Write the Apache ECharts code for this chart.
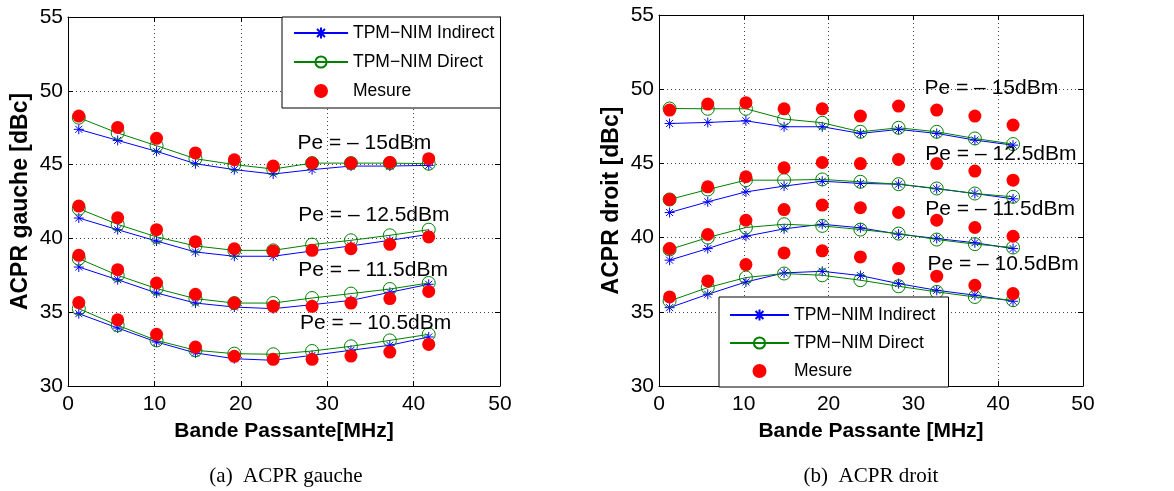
<!DOCTYPE html>
<html><head><meta charset="utf-8">
<script src="https://cdn.jsdelivr.net/npm/echarts@6/dist/echarts.min.js"></script>
<style>html,body{margin:0;padding:0;background:#fff}#c{width:1174px;height:491px}</style>
</head><body><div id="c"></div><script>
// ---------- data ----------
const bandwidthMHz = [1.25, 5.75, 10.25, 14.75, 19.25, 23.75, 28.25, 32.75, 37.25, 41.75];
const powerLabels = ['Pe = – 15dBm', 'Pe = – 12.5dBm', 'Pe = – 11.5dBm', 'Pe = – 10.5dBm'];

// ACPR gauche (left)
const gaucheIndirect15  = [47.39, 46.64, 45.90, 45.06, 44.66, 44.36, 44.66, 44.90, 44.90, 44.95];
const gaucheDirect15    = [48.18, 47.14, 46.28, 45.40, 45.00, 44.70, 45.10, 45.10, 45.10, 45.06];
const gaucheMesure15    = [48.29, 47.52, 46.78, 45.79, 45.33, 44.90, 45.10, 45.10, 45.15, 45.40];
const gaucheIndirect125 = [41.38, 40.59, 39.82, 39.08, 38.79, 38.79, 39.15, 39.49, 39.87, 40.28];
const gaucheDirect125   = [42.01, 40.95, 40.10, 39.49, 39.19, 39.19, 39.58, 39.87, 40.21, 40.59];
const gaucheMesure125   = [42.19, 41.40, 40.59, 39.78, 39.30, 39.15, 39.19, 39.30, 39.60, 40.10];
const gaucheIndirect115 = [38.06, 37.20, 36.30, 35.62, 35.35, 35.24, 35.51, 35.80, 36.35, 36.89];
const gaucheDirect115   = [38.63, 37.50, 36.60, 35.92, 35.62, 35.62, 35.96, 36.26, 36.57, 36.98];
const gaucheMesure115   = [38.85, 37.88, 36.98, 36.21, 35.62, 35.40, 35.40, 35.62, 35.92, 36.41];
const gaucheIndirect105 = [34.90, 33.93, 32.98, 32.24, 31.85, 31.74, 32.08, 32.42, 32.76, 33.32];
const gaucheDirect105   = [35.24, 34.11, 33.09, 32.42, 32.19, 32.15, 32.37, 32.69, 33.09, 33.50];
const gaucheMesure105   = [35.65, 34.49, 33.50, 32.64, 32.01, 31.81, 31.81, 32.03, 32.30, 32.82];

// ACPR droit (right)
const droitIndirect15  = [47.69, 47.76, 47.87, 47.47, 47.47, 47.02, 47.29, 47.02, 46.57, 46.23];
const droitDirect15    = [48.70, 48.68, 48.68, 47.99, 47.74, 47.13, 47.40, 47.13, 46.68, 46.30];
const droitMesure15    = [48.59, 49.00, 49.09, 48.68, 48.68, 48.19, 48.86, 48.59, 48.19, 47.58];
const droitIndirect125 = [41.69, 42.41, 43.08, 43.47, 43.80, 43.65, 43.60, 43.29, 42.97, 42.61];
const droitDirect125   = [42.57, 43.24, 43.87, 43.87, 43.92, 43.76, 43.60, 43.31, 42.97, 42.75];
const droitMesure125   = [42.57, 43.42, 44.10, 44.70, 45.06, 44.99, 45.27, 44.99, 44.48, 43.87];
const droitIndirect115 = [38.48, 39.26, 40.09, 40.59, 40.90, 40.66, 40.23, 39.94, 39.65, 39.26];
const droitDirect115   = [39.20, 40.00, 40.68, 40.90, 40.79, 40.54, 40.27, 39.87, 39.56, 39.33];
const droitMesure115   = [39.26, 40.21, 41.17, 41.89, 42.19, 42.01, 41.69, 41.17, 40.68, 40.09];
const droitIndirect105 = [35.28, 36.18, 37.01, 37.62, 37.73, 37.44, 36.90, 36.45, 36.12, 35.71];
const droitDirect105   = [35.73, 36.63, 37.31, 37.58, 37.46, 37.13, 36.72, 36.34, 36.00, 35.78];
const droitMesure105   = [36.00, 37.08, 38.18, 38.97, 39.11, 38.70, 37.91, 37.40, 36.79, 36.23];

// annotation anchors (data coordinates of the text's left-middle point)
const gaucheLabelAnchors = [[26.5, 46.45], [26.6, 41.6], [26.6, 37.85], [26.8, 34.25]];
const droitLabelAnchors  = [[31.25, 50.05], [31.35, 45.6], [31.35, 41.9], [31.6, 38.2]];

const xTicks = {min: 0, max: 50, interval: 10};
const yTicks = {min: 30, max: 55, interval: 5};

// ---------- chart ----------
const FONT = '"Liberation Sans", Arial, Helvetica, sans-serif';
const IND = 'TPM−NIM Indirect', DIR = 'TPM−NIM Direct', MES = 'Mesure';
const STAR = 'path://M10,0L10,20M0,10L20,10M3,3L17,17M17,3L3,17';
const pair = ys => ys.map((y, i) => [bandwidthMHz[i], y]);

function groupSeries(axisIdx, ind, dir, mes) {
  return [
    {name: IND, type: 'line', xAxisIndex: axisIdx, yAxisIndex: axisIdx, data: pair(ind),
     symbol: STAR, symbolSize: 10, showAllSymbol: true,
     lineStyle: {color: '#0000ff', width: 1},
     itemStyle: {color: '#0000ff', borderColor: '#0000ff', borderWidth: 1}, z: 3},
    {name: DIR, type: 'line', xAxisIndex: axisIdx, yAxisIndex: axisIdx, data: pair(dir),
     symbol: 'circle', symbolSize: 13, showAllSymbol: true,
     lineStyle: {color: '#008000', width: 1},
     itemStyle: {color: 'rgba(255,255,255,0)', borderColor: '#008000', borderWidth: 1}, z: 4},
    {name: MES, type: 'scatter', xAxisIndex: axisIdx, yAxisIndex: axisIdx, data: pair(mes),
     symbol: 'circle', symbolSize: 13, itemStyle: {color: '#ff0000', opacity: 1}, z: 5}
  ];
}
function annotSeries(axisIdx, anchors) {
  return {
    name: 'annot' + axisIdx, type: 'scatter', xAxisIndex: axisIdx, yAxisIndex: axisIdx,
    silent: true, symbolSize: 1, itemStyle: {color: 'rgba(0,0,0,0)', opacity: 1}, z: 10,
    data: anchors.map((a, i) => ({value: a, name: powerLabels[i]})),
    label: {show: true, position: 'right', distance: 0, formatter: p => p.name,
            fontSize: 21, color: '#000', opacity: 1, fontFamily: FONT}
  };
}
function xAxes(gi, name) {
  const common = {gridIndex: gi, type: 'value', ...xTicks,
    axisLine: {show: true, onZero: false, lineStyle: {color: '#000', width: 1}},
    axisTick: {show: true, inside: true, length: 5, lineStyle: {color: '#000'}}};
  return [
    {...common, position: 'bottom', name, nameLocation: 'middle', nameGap: 35,
     nameTextStyle: {fontWeight: 'bold', fontSize: 21, color: '#000', fontFamily: FONT},
     axisLabel: {fontSize: 21, color: '#000', margin: 8, fontFamily: FONT},
     splitLine: {show: true, lineStyle: {type: [1, 3], color: '#444', width: 1}}},
    {...common, position: 'top', axisLabel: {show: false}, splitLine: {show: false}}
  ];
}
function yAxes(gi, name) {
  const common = {gridIndex: gi, type: 'value', ...yTicks,
    axisLine: {show: true, onZero: false, lineStyle: {color: '#000', width: 1}},
    axisTick: {show: true, inside: true, length: 5, lineStyle: {color: '#000'}}};
  return [
    {...common, position: 'left', name, nameLocation: 'middle', nameGap: 36,
     nameTextStyle: {fontWeight: 'bold', fontSize: 23, color: '#000', fontFamily: FONT},
     axisLabel: {fontSize: 21, color: '#000', margin: 5, fontFamily: FONT},
     splitLine: {show: true, lineStyle: {type: [1, 3], color: '#444', width: 1}}},
    {...common, position: 'right', axisLabel: {show: false}, splitLine: {show: false}}
  ];
}
function legendAt(left, top, iw, gap, pad) {
  return {data: [IND, DIR, MES], left, top, orient: 'vertical', selectedMode: false,
    itemWidth: iw, itemHeight: 14, itemGap: gap, padding: pad,
    borderColor: '#000', borderWidth: 1, backgroundColor: '#fff', borderRadius: 0,
    textStyle: {fontSize: 17.5, color: '#000', fontFamily: FONT}, z: 20};
}

const chart = echarts.init(document.getElementById('c'), null, {renderer: 'canvas'});
chart.setOption({
  animation: false,
  backgroundColor: '#fff',
  grid: [
    {left: 68, top: 17, width: 432, height: 369, show: false},
    {left: 659, top: 15, width: 424, height: 371, show: false}
  ],
  xAxis: [...xAxes(0, 'Bande Passante[MHz]'), ...xAxes(1, 'Bande Passante [MHz]')],
  yAxis: [...yAxes(0, 'ACPR gauche [dBc]'), ...yAxes(1, 'ACPR droit [dBc]')],
  legend: [legendAt(282, 17, 54, 11, [7, 6, 8, 11]), legendAt(719, 297, 59, 10, [9, 13, 7, 10])],
  series: [
    ...groupSeries(0, gaucheIndirect15, gaucheDirect15, gaucheMesure15),
    ...groupSeries(0, gaucheIndirect125, gaucheDirect125, gaucheMesure125),
    ...groupSeries(0, gaucheIndirect115, gaucheDirect115, gaucheMesure115),
    ...groupSeries(0, gaucheIndirect105, gaucheDirect105, gaucheMesure105),
    annotSeries(0, gaucheLabelAnchors),
    ...groupSeries(2, droitIndirect15, droitDirect15, droitMesure15),
    ...groupSeries(2, droitIndirect125, droitDirect125, droitMesure125),
    ...groupSeries(2, droitIndirect115, droitDirect115, droitMesure115),
    ...groupSeries(2, droitIndirect105, droitDirect105, droitMesure105),
    annotSeries(2, droitLabelAnchors)
  ],
  graphic: [
    {type: 'text', x: 286, y: 476, style: {text: '(a)  ACPR gauche', textAlign: 'center', textVerticalAlign: 'middle',
      font: '21px "Liberation Serif", "DejaVu Serif", serif', fill: '#000'}},
    {type: 'text', x: 871, y: 476, style: {text: '(b)  ACPR droit', textAlign: 'center', textVerticalAlign: 'middle',
      font: '21px "Liberation Serif", "DejaVu Serif", serif', fill: '#000'}}
  ]
});
</script></body></html>
